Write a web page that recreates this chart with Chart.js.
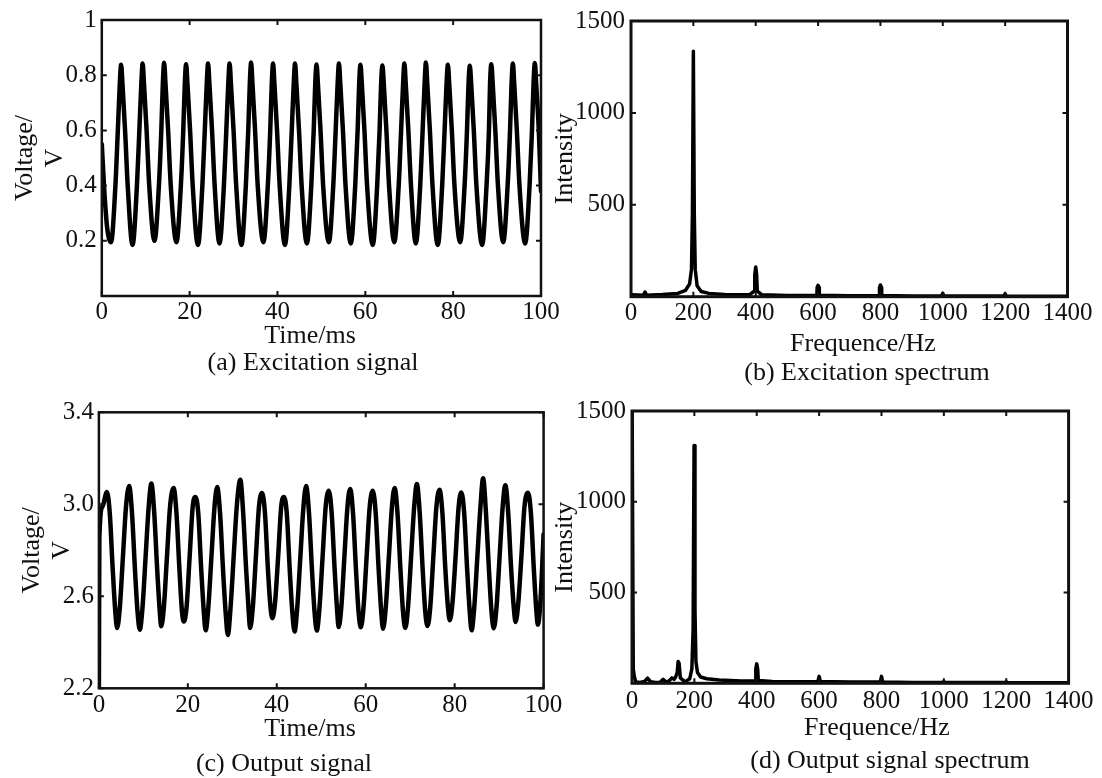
<!DOCTYPE html>
<html>
<head>
  <meta charset="utf-8">
  <title>Excitation / output signal and spectrum</title>
  <script src="https://cdn.jsdelivr.net/npm/chart.js"></script>
  <style>
    body {
      margin: 0;
      width: 1102px;
      height: 778px;
      overflow: hidden;
      position: relative;
      background-color: #fff;
      font-family: "Liberation Serif", "Times New Roman", serif;
    }
    .panel { position: absolute; }
    .caption, .xlabel {
      position: absolute;
      font-size: 26px;
      line-height: 1;
      white-space: nowrap;
      color: #111;
      transform: translate(-50%, -50%);
    }
  </style>
</head>
<body>
  <div class="panel" style="left:0px; top:0px; width:565px; height:360px;"><canvas id="chartA"></canvas></div>
  <div class="panel" style="left:545px; top:0px; width:557px; height:380px;"><canvas id="chartB"></canvas></div>
  <div class="panel" style="left:0px; top:390px; width:565px; height:388px;"><canvas id="chartC"></canvas></div>
  <div class="panel" style="left:548px; top:390px; width:554px; height:388px;"><canvas id="chartD"></canvas></div>

  <!-- x axis labels sit a little off the axes centre in the original figure -->
  <div class="xlabel" style="left:310px; top:335px;">Time/ms</div>
  <div class="xlabel" style="left:863px; top:343px;">Frequence/Hz</div>
  <div class="xlabel" style="left:310px; top:728px;">Time/ms</div>
  <div class="xlabel" style="left:877px; top:727px;">Frequence/Hz</div>

  <div class="caption" style="left:313px; top:362px;">(a) Excitation signal</div>
  <div class="caption" style="left:867px; top:372px;">(b) Excitation spectrum</div>
  <div class="caption" style="left:284px; top:763px;">(c) Output signal</div>
  <div class="caption" style="left:890px; top:760px;">(d) Output signal spectrum</div>

  <script>
    // ----- (a) excitation signal -----
    const timeA = [0, 0.5, 1.2,
      2.1, 3.1, 3.65, 4.1, 4.4, 4.7, 5.3, 5.9,
      7.0, 8.0, 8.55, 9.0, 9.3, 9.6, 10.2, 10.8,
      12.0, 13.0, 13.55, 13.9, 14.2, 14.5, 15.1, 15.7,
      17.0, 18.0, 18.55, 18.9, 19.2, 19.5, 20.1, 20.7,
      21.9, 22.9, 23.45, 23.9, 24.2, 24.5, 25.1, 25.7,
      26.8, 27.8, 28.35, 28.8, 29.1, 29.4, 30.0, 30.6,
      31.8, 32.8, 33.35, 33.7, 34.0, 34.3, 34.9, 35.5,
      36.8, 37.8, 38.35, 38.7, 39.0, 39.3, 39.9, 40.5,
      41.7, 42.7, 43.25, 43.7, 44.0, 44.3, 44.9, 45.5,
      46.7, 47.7, 48.25, 48.6, 48.9, 49.2, 49.8, 50.4,
      51.7, 52.7, 53.25, 53.7, 54.0, 54.3, 54.9, 55.5,
      56.7, 57.7, 58.25, 58.6, 58.9, 59.2, 59.8, 60.4,
      61.7, 62.7, 63.25, 63.6, 63.9, 64.2, 64.8, 65.4,
      66.6, 67.6, 68.15, 68.6, 68.9, 69.2, 69.8, 70.4,
      71.5, 72.5, 73.05, 73.5, 73.8, 74.1, 74.7, 75.3,
      76.5, 77.5, 78.05, 78.5, 78.8, 79.1, 79.7, 80.3,
      81.6, 82.6, 83.15, 83.5, 83.8, 84.1, 84.7, 85.3,
      86.6, 87.6, 88.15, 88.4, 88.7, 89.0, 89.6, 90.2,
      91.4, 92.4, 92.95, 93.3, 93.6, 93.9, 94.5, 95.1,
      96.4, 97.4, 97.95, 98.3, 98.6, 98.9, 99.5, 100];
    const voltA = [0.55, 0.40, 0.25,
      0.195, 0.40, 0.60, 0.77, 0.838, 0.77, 0.60, 0.40,
      0.185, 0.40, 0.60, 0.77, 0.842, 0.77, 0.60, 0.40,
      0.200, 0.40, 0.60, 0.77, 0.845, 0.77, 0.60, 0.40,
      0.195, 0.40, 0.60, 0.77, 0.840, 0.77, 0.60, 0.40,
      0.185, 0.40, 0.60, 0.77, 0.842, 0.77, 0.60, 0.40,
      0.190, 0.40, 0.60, 0.77, 0.842, 0.77, 0.60, 0.40,
      0.185, 0.40, 0.60, 0.77, 0.846, 0.77, 0.60, 0.40,
      0.195, 0.40, 0.60, 0.77, 0.842, 0.77, 0.60, 0.40,
      0.185, 0.40, 0.60, 0.77, 0.842, 0.77, 0.60, 0.40,
      0.190, 0.40, 0.60, 0.77, 0.839, 0.77, 0.60, 0.40,
      0.195, 0.40, 0.60, 0.77, 0.842, 0.77, 0.60, 0.40,
      0.190, 0.40, 0.60, 0.77, 0.838, 0.77, 0.60, 0.40,
      0.185, 0.40, 0.60, 0.77, 0.835, 0.77, 0.60, 0.40,
      0.195, 0.40, 0.60, 0.77, 0.842, 0.77, 0.60, 0.40,
      0.190, 0.40, 0.60, 0.77, 0.846, 0.77, 0.60, 0.40,
      0.185, 0.40, 0.60, 0.77, 0.838, 0.77, 0.60, 0.40,
      0.195, 0.40, 0.60, 0.77, 0.834, 0.77, 0.60, 0.40,
      0.185, 0.40, 0.60, 0.77, 0.840, 0.77, 0.60, 0.40,
      0.195, 0.40, 0.60, 0.77, 0.842, 0.77, 0.60, 0.40,
      0.190, 0.40, 0.60, 0.77, 0.844, 0.77, 0.60, 0.38];

    // ----- (b) excitation spectrum -----
    const freqB = [0, 40, 45, 50, 100, 150, 175, 188, 194, 197, 200, 203, 206, 212, 225,
      250, 300, 380, 395, 397, 400, 403, 405, 420, 500, 596, 597, 600, 603, 604,
      700, 796, 797, 800, 803, 804, 900, 996, 1000, 1004, 1100, 1196, 1200, 1204, 1400];
    const ampB = [10, 8, 25, 8, 12, 18, 35, 70, 150, 450, 1335, 450, 150, 60, 28,
      18, 12, 10, 30, 120, 162, 120, 30, 10, 6, 8, 50, 62, 50, 8,
      5, 6, 50, 64, 50, 6, 4, 5, 18, 5, 4, 4, 15, 4, 3];

    // ----- (c) output signal -----
    const timeC = [0, 0.1, 0.8,
      1.8, 2.45, 3.1, 3.7, 4.1, 4.7, 5.4, 6.1,
      6.8, 7.45, 8.1, 8.7, 9.2, 9.8, 10.5, 11.2,
      11.8, 12.45, 13.1, 13.7, 14.0, 14.6, 15.3, 16.0,
      16.8, 17.45, 18.1, 18.7, 19.1, 19.7, 20.4, 21.1,
      21.7, 22.35, 23.0, 23.6, 24.0, 24.6, 25.3, 26.0,
      26.6, 27.25, 27.9, 28.5, 29.0, 29.6, 30.3, 31.0,
      31.8, 32.45, 33.1, 33.7, 34.0, 34.6, 35.3, 36.0,
      36.7, 37.35, 38.0, 38.6, 39.0, 39.6, 40.3, 41.0,
      41.6, 42.25, 42.9, 43.5, 44.0, 44.6, 45.3, 46.0,
      46.6, 47.25, 47.9, 48.5, 49.0, 49.6, 50.3, 51.0,
      51.7, 52.35, 53.0, 53.6, 53.9, 54.5, 55.2, 55.9,
      56.5, 57.15, 57.8, 58.4, 58.9, 59.5, 60.2, 60.9,
      61.6, 62.25, 62.9, 63.5, 63.9, 64.5, 65.2, 65.9,
      66.5, 67.15, 67.8, 68.4, 68.9, 69.5, 70.2, 70.9,
      71.5, 72.15, 72.8, 73.4, 73.9, 74.5, 75.2, 75.9,
      76.6, 77.25, 77.9, 78.5, 78.9, 79.5, 80.2, 80.9,
      81.5, 82.15, 82.8, 83.4, 83.8, 84.4, 85.1, 85.8,
      86.4, 87.05, 87.7, 88.3, 88.8, 89.4, 90.1, 90.8,
      91.4, 92.05, 92.7, 93.3, 93.7, 94.3, 95.0, 95.7,
      96.5, 97.15, 97.8, 98.4, 98.7, 99.3, 100];
    const voltC = [2.20, 2.85, 2.99,
      3.053, 2.96, 2.72, 2.53, 2.462, 2.55, 2.77, 2.99,
      3.080, 2.96, 2.72, 2.53, 2.455, 2.55, 2.77, 2.99,
      3.090, 2.96, 2.72, 2.53, 2.470, 2.55, 2.77, 2.99,
      3.071, 2.96, 2.72, 2.53, 2.490, 2.55, 2.77, 2.99,
      3.032, 2.96, 2.72, 2.53, 2.452, 2.55, 2.77, 2.99,
      3.075, 2.96, 2.72, 2.53, 2.432, 2.55, 2.77, 2.99,
      3.107, 2.96, 2.72, 2.53, 2.462, 2.55, 2.77, 2.99,
      3.049, 2.96, 2.72, 2.55, 2.505, 2.57, 2.77, 2.99,
      3.032, 2.96, 2.72, 2.53, 2.447, 2.55, 2.77, 2.99,
      3.080, 2.96, 2.72, 2.53, 2.451, 2.55, 2.77, 2.99,
      3.059, 2.96, 2.72, 2.53, 2.466, 2.55, 2.77, 2.99,
      3.067, 2.96, 2.72, 2.53, 2.465, 2.55, 2.77, 2.99,
      3.059, 2.96, 2.72, 2.53, 2.459, 2.55, 2.77, 2.99,
      3.071, 2.96, 2.72, 2.53, 2.462, 2.55, 2.77, 2.99,
      3.088, 2.96, 2.72, 2.53, 2.471, 2.55, 2.77, 2.99,
      3.063, 2.96, 2.72, 2.55, 2.496, 2.57, 2.77, 2.99,
      3.051, 2.96, 2.72, 2.53, 2.452, 2.55, 2.77, 2.99,
      3.113, 2.96, 2.72, 2.53, 2.461, 2.55, 2.77, 2.99,
      3.083, 2.96, 2.72, 2.55, 2.488, 2.57, 2.77, 2.99,
      3.050, 2.96, 2.72, 2.53, 2.477, 2.58, 2.87];

    // ----- (d) output signal spectrum (DC bin runs off the top) -----
    const freqD = [0, 2, 4, 7, 12, 25, 40, 50, 60, 75, 90, 100, 110, 120, 128,
      135, 140, 145, 148, 151, 155, 170, 185, 192, 196, 199, 202, 205, 210, 220,
      240, 280, 350, 395, 397, 400, 403, 405, 450, 550, 596, 600, 604, 700, 796,
      800, 804, 900, 996, 1000, 1004, 1100, 1196, 1200, 1204, 1300, 1400];
    const ampD = [1700, 1700, 80, 40, 8, 4, 10, 28, 8, 4, 6, 22, 6, 15, 30,
      22, 35, 60, 120, 110, 30, 8, 25, 80, 300, 1310, 400, 120, 60, 35,
      25, 18, 12, 12, 80, 107, 80, 15, 10, 8, 10, 38, 10, 7, 7,
      38, 7, 5, 5, 10, 5, 4, 4, 9, 4, 3, 3];

    // ----- tick values and labels -----
    const timeTicks = [0, 20, 40, 60, 80, 100];
    const timeLabels = ["0", "20", "40", "60", "80", "100"];
    const freqTicks = [0, 200, 400, 600, 800, 1000, 1200, 1400];
    const freqLabels = ["0", "200", "400", "600", "800", "1000", "1200", "1400"];
    const voltTicksA = [0.2, 0.4, 0.6, 0.8, 1];
    const voltLabelsA = ["0.2", "0.4", "0.6", "0.8", "1"];
    const voltTicksC = [2.2, 2.6, 3.0, 3.4];
    const voltLabelsC = ["2.2", "2.6", "3.0", "3.4"];
    const intTicks = [500, 1000, 1500];
    const intLabels = ["500", "1000", "1500"];

    const FONT = '"Liberation Serif", "Times New Roman", serif';
    const INK = "#111";

    // box frame with inward tick marks on all four sides (MATLAB style)
    const boxFrame = {
      id: "boxFrame",
      afterDatasetsDraw(chart, args, opts) {
        const { ctx, chartArea: a } = chart;
        const xs = chart.scales.x, ys = chart.scales.y;
        ctx.save();
        ctx.strokeStyle = INK;
        ctx.lineWidth = opts.tickWidth;
        ctx.beginPath();
        xs.ticks.forEach(t => {
          const px = xs.getPixelForValue(t.value);
          ctx.moveTo(px, a.bottom); ctx.lineTo(px, a.bottom - opts.tickLen);
          ctx.moveTo(px, a.top); ctx.lineTo(px, a.top + opts.tickLen);
        });
        ys.ticks.forEach(t => {
          const py = ys.getPixelForValue(t.value);
          ctx.moveTo(a.left, py); ctx.lineTo(a.left + opts.tickLen, py);
          ctx.moveTo(a.right, py); ctx.lineTo(a.right - opts.tickLen, py);
        });
        ctx.stroke();
        ctx.lineWidth = opts.frameWidth;
        ctx.strokeRect(a.left, a.top, a.right - a.left, a.bottom - a.top);
        ctx.restore();
      }
    };

    function makePanel(id, p) {
      new Chart(document.getElementById(id), {
        type: "line",
        data: {
          datasets: [{
            data: p.xs.map((v, i) => ({ x: v, y: p.ys[i] })),
            borderColor: "#000",
            borderWidth: p.lineWidth,
            borderJoinStyle: "round",
            borderCapStyle: "round",
            pointRadius: 0,
            tension: p.smooth ? 0.4 : 0,
            cubicInterpolationMode: p.smooth ? "monotone" : "default"
          }]
        },
        options: {
          responsive: true,
          maintainAspectRatio: false,
          animation: false,
          events: [],
          layout: { padding: p.padding },
          plugins: {
            legend: { display: false },
            tooltip: { enabled: false },
            boxFrame: { tickLen: 5, tickWidth: 2, frameWidth: p.frameWidth }
          },
          scales: {
            x: {
              type: "linear",
              min: p.xMin, max: p.xMax,
              grid: { display: false, drawTicks: false },
              border: { display: false },
              afterBuildTicks: s => { s.ticks = p.xTicks.map(v => ({ value: v })); },
              afterFit: s => { s.height = p.xAxisHeight; },
              ticks: {
                autoSkip: false, maxRotation: 0, padding: p.xTickPad, color: INK,
                font: { family: FONT, size: 25 },
                callback: (v, i) => p.xLabels[i]
              }
            },
            y: {
              min: p.yMin, max: p.yMax,
              grid: { display: false, drawTicks: false },
              border: { display: false },
              afterBuildTicks: s => { s.ticks = p.yTicks.map(v => ({ value: v })); },
              afterFit: s => { s.width = p.yAxisWidth; },
              ticks: {
                autoSkip: false, padding: p.yTickPad, color: INK,
                font: { family: FONT, size: 25 },
                callback: (v, i) => p.yLabels[i]
              },
              title: {
                display: true, text: p.yTitle, color: INK,
                padding: { top: p.yTitlePad, bottom: 0 },
                font: { family: FONT, size: 26, lineHeight: 1.15 }
              }
            }
          }
        },
        plugins: [boxFrame]
      });
    }

    makePanel("chartA", {
      xs: timeA, ys: voltA, smooth: true, lineWidth: 4.5, frameWidth: 2.5,
      xMin: 0, xMax: 100, yMin: 0, yMax: 1,
      xTicks: timeTicks, xLabels: timeLabels, yTicks: voltTicksA, yLabels: voltLabelsA,
      yTitle: ["Voltage/", "V"],
      padding: { top: 19, right: 24, bottom: 10, left: 0 },
      yAxisWidth: 101.8, xAxisHeight: 54, xTickPad: 1, yTickPad: 5, yTitlePad: 10
    });

    makePanel("chartB", {
      xs: freqB, ys: ampB, smooth: false, lineWidth: 3.5, frameWidth: 3,
      xMin: 0, xMax: 1400, yMin: 0, yMax: 1500,
      xTicks: freqTicks, xLabels: freqLabels, yTicks: intTicks, yLabels: intLabels,
      yTitle: "Intensity",
      padding: { top: 16.7, right: 34.5, bottom: 22, left: 0 },
      yAxisWidth: 86, xAxisHeight: 61.3, xTickPad: 1.5, yTickPad: 6, yTitlePad: 5
    });

    makePanel("chartC", {
      xs: timeC, ys: voltC, smooth: true, lineWidth: 4.5, frameWidth: 2.5,
      xMin: 0, xMax: 100, yMin: 2.2, yMax: 3.4,
      xTicks: timeTicks, xLabels: timeLabels, yTicks: voltTicksC, yLabels: voltLabelsC,
      yTitle: ["Voltage/", "V"],
      padding: { top: 22.3, right: 21.4, bottom: 35, left: 0 },
      yAxisWidth: 98.9, xAxisHeight: 54.7, xTickPad: 2, yTickPad: 5, yTitlePad: 17
    });

    makePanel("chartD", {
      xs: freqD, ys: ampD, smooth: false, lineWidth: 3.5, frameWidth: 3,
      xMin: 0, xMax: 1400, yMin: 0, yMax: 1500,
      xTicks: freqTicks, xLabels: freqLabels, yTicks: intTicks, yLabels: intLabels,
      yTitle: "Intensity",
      padding: { top: 21, right: 33.4, bottom: 36.3, left: 0 },
      yAxisWidth: 84, xAxisHeight: 58.4, xTickPad: 3.5, yTickPad: 6, yTitlePad: 2
    });
  </script>
</body>
</html>
